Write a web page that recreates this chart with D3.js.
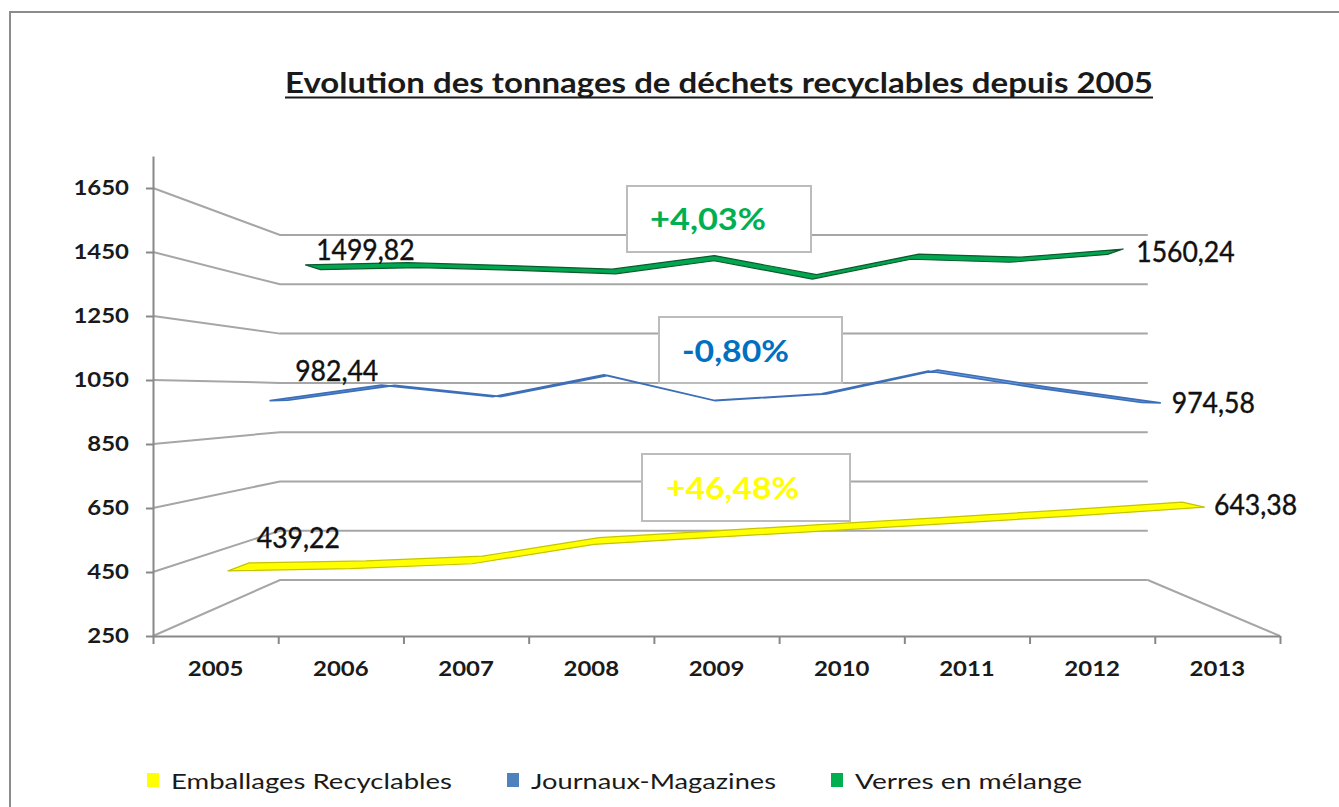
<!DOCTYPE html>
<html>
<head>
<meta charset="utf-8">
<script src="https://cdn.jsdelivr.net/npm/d3@7"></script>
<style>
  body { margin: 0; background: #fff; }
  text { font-family: Lato, "Open Sans", sans-serif; }
</style>
</head>
<body>
<div id="chart"></div>
<script>
// Data
var years = ["2005", "2006", "2007", "2008", "2009", "2010", "2011", "2012", "2013"];
var yTicks = [250, 450, 650, 850, 1050, 1250, 1450, 1650];
var seriesNames = ["Emballages Recyclables", "Journaux-Magazines", "Verres en mélange"];
var emballages = [439.22, 446, 462, 524, 547, 570, 593, 617, 643.38];
var journaux = [982.44, 1037, 996, 1073, 982, 1006, 1090, 1029, 974.58];
var verres = [1499.82, 1508, 1497, 1483, 1535, 1462, 1541, 1529, 1560.24];
var variations = ["+46,48%", "-0,80%", "+4,03%"];
var title = "Evolution des tonnages de déchets recyclables depuis 2005";

var width = 1339;
var height = 807;

// Colours
var fills = ["#ffff00", "#6a9be0", "#00a650"];
var edges = ["#c4c400", "#3d6fb8", "#0b5a2c"];
var legendColors = ["#ffff00", "#4f81bd", "#00b050"];
var pctColors = ["#ffff00", "#0070c0", "#00b050"];
var gridColor = "#a6a6a6";
var axisColor = "#888888";

// Front plane of the 3D box
var x0 = d3.scaleLinear().domain([0, years.length]).range([153, 1280]);
var y0 = d3.scaleLinear().domain([250, 1750]).range([636, 156]);

// Perspective: depth 0 = front, 1 = back wall
var vp = { x: 705, y: 392.6 };
var depthK = 0.2987;
function project(u, v, d) {
  var s = 1 / (1 + depthK * d);
  return [vp.x + (x0(u) - vp.x) * s, vp.y + (y0(v) - vp.y) * s];
}

var fmt = d3.formatLocale({ decimal: ",", thousands: " ", grouping: [3], currency: ["", "€"] }).format(".2f");

var svg = d3.select("#chart")
  .append("svg")
  .attr("width", width)
  .attr("height", height);

// outer frame
svg.append("rect")
  .attr("x", 10).attr("y", 12)
  .attr("width", width).attr("height", height)
  .attr("fill", "#fff")
  .attr("stroke", "#8c8c8c")
  .attr("stroke-width", 2);

// Title
svg.append("text")
  .attr("x", 719).attr("y", 93)
  .attr("text-anchor", "middle")
  .attr("font-size", 29)
  .attr("font-weight", "bold")
  .attr("fill", "#1a1a1a")
  .attr("textLength", 868)
  .attr("lengthAdjust", "spacingAndGlyphs")
  .text(title);
svg.append("line")
  .attr("x1", 285).attr("x2", 1153)
  .attr("y1", 97.5).attr("y2", 97.5)
  .attr("stroke", "#1a1a1a")
  .attr("stroke-width", 2);

// Side wall + back wall gridlines
var line = d3.line();
var grid = svg.append("g").attr("class", "grid");
yTicks.forEach(function(v) {
  grid.append("path")
    .attr("d", line([project(0, v, 0), project(0, v, 1), project(years.length, v, 1)]))
    .attr("fill", "none")
    .attr("stroke", gridColor)
    .attr("stroke-width", 2);
});
// floor right edge
grid.append("path")
  .attr("d", line([project(years.length, 250, 1), project(years.length, 250, 0)]))
  .attr("fill", "none")
  .attr("stroke", gridColor)
  .attr("stroke-width", 2);

// Y axis
var yAxis = svg.append("g")
  .attr("transform", "translate(" + x0(0) + ",0)")
  .call(d3.axisLeft(y0).tickValues(yTicks).tickFormat(d3.format("d"))
    .tickSize(7).tickSizeOuter(0).tickPadding(17));

// X axis: tick marks between categories
var xAxis = svg.append("g")
  .attr("transform", "translate(0," + y0(250) + ")")
  .call(d3.axisBottom(x0).tickValues(d3.range(years.length + 1)).tickFormat("").tickSize(8).tickSizeOuter(0));

// X labels at category centres
var xBand = d3.scaleBand().domain(years).range([x0(0), x0(years.length)]);
var xLabels = svg.append("g")
  .attr("transform", "translate(0," + y0(250) + ")")
  .call(d3.axisBottom(xBand).tickSize(0).tickPadding(26));
xLabels.select(".domain").remove();

[yAxis, xAxis].forEach(function(g) {
  g.selectAll("path, line").attr("stroke", axisColor).attr("stroke-width", 2);
});
[yAxis, xLabels].forEach(function(g) {
  g.selectAll("text")
    .attr("font-size", 20)
    .attr("font-weight", "bold")
    .attr("fill", "#1a1a1a")
    .attr("textLength", function() { return this.textContent.length * 13.9; })
    .attr("lengthAdjust", "spacingAndGlyphs");
});

// Variation boxes (annotations)
var boxes = [
  { x: 642, y: 454, w: 208, h: 67, tx: 666, ty: 499, tl: 133 },
  { x: 659, y: 317, w: 183, h: 66, tx: 682, ty: 362, tl: 107 },
  { x: 627, y: 186, w: 184, h: 66, tx: 650, ty: 230, tl: 116 }
];
boxes.forEach(function(b, j) {
  svg.append("rect")
    .attr("x", b.x).attr("y", b.y)
    .attr("width", b.w).attr("height", b.h)
    .attr("fill", "#fff")
    .attr("stroke", "#bcbcbc")
    .attr("stroke-width", 2);
  svg.append("text")
    .attr("x", b.tx).attr("y", b.ty)
    .attr("font-size", 31)
    .attr("font-weight", "bold")
    .attr("fill", pctColors[j])
    .attr("textLength", b.tl)
    .attr("lengthAdjust", "spacingAndGlyphs")
    .text(variations[j]);
});

// Ribbons, drawn back to front
var seriesData = [emballages, journaux, verres];
var ribbonHalf = 0.08;
[2, 1, 0].forEach(function(j) {
  var c = (j + 0.5) / seriesData.length;
  var front = seriesData[j].map(function(v, i) { return project(i + 0.5, v, c - ribbonHalf); });
  var back = seriesData[j].map(function(v, i) { return project(i + 0.5, v, c + ribbonHalf); }).reverse();
  svg.append("path")
    .attr("d", line(front.concat(back)) + "Z")
    .attr("fill", fills[j])
    .attr("stroke", edges[j])
    .attr("stroke-width", j === 1 ? 1.6 : 1.2)
    .attr("stroke-linejoin", "round");
});

// Data labels on first and last points
var startOffset = [[18, -19], [16, -19], [3, -7]];
var labelWidth = function(s) { return s.replace(",", "").length * 15.4 + 6; };
seriesData.forEach(function(vals, j) {
  var c = (j + 0.5) / seriesData.length;
  var n = vals.length;
  var p0 = project(0.5, vals[0], c);
  var p1 = project(n - 0.5, vals[n - 1], c);
  [[p0, startOffset[j], vals[0]], [p1, [21, 10.5], vals[n - 1]]].forEach(function(l) {
    var s = fmt(l[2]);
    svg.append("text")
      .attr("x", l[0][0] + l[1][0])
      .attr("y", l[0][1] + l[1][1])
      .attr("font-size", 28)
      .attr("fill", "#111")
      .attr("stroke", "#111")
      .attr("stroke-width", 0.4)
      .attr("textLength", labelWidth(s))
      .attr("lengthAdjust", "spacingAndGlyphs")
      .text(s);
  });
});

// Legend
var legendWidths = [281, 245, 227];
var lx = 147;
seriesNames.forEach(function(name, j) {
  svg.append("rect")
    .attr("x", lx).attr("y", 773)
    .attr("width", 12).attr("height", 14)
    .attr("fill", legendColors[j]);
  svg.append("text")
    .attr("x", lx + 24).attr("y", 789)
    .attr("font-size", 22)
    .attr("fill", "#1a1a1a")
    .attr("textLength", legendWidths[j])
    .attr("lengthAdjust", "spacingAndGlyphs")
    .text(name);
  lx += 24 + legendWidths[j] + 55;
});
</script>
</body>
</html>
